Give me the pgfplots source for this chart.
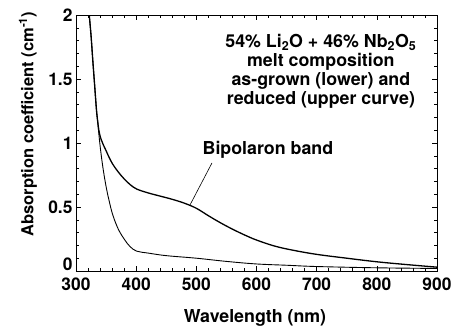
\documentclass[border=0pt]{standalone}
\usepackage{fontspec}
\setmainfont{TeX Gyre Heros}
\usepackage{pgfplots}
\pgfplotsset{compat=1.18}
\begin{document}
\begin{tikzpicture}
\useasboundingbox (-76pt,-59pt) rectangle (390pt,271pt);
\begin{axis}[
  at={(0,0)}, anchor=south west,
  scale only axis, width=361pt, height=256pt,
  xmin=300, xmax=900, ymin=0, ymax=2,
  xtick={300,400,...,900}, ytick={0,0.5,1,1.5,2},
  yticklabels={\raisebox{13pt}{0},0.5,1,1.5,\raisebox{-9pt}{2}},
  minor x tick num=4, minor y tick num=4,
  tick align=inside,
  major tick length=5pt, minor tick length=3pt,
  axis line style={line width=0.8pt},
  every tick/.style={black, line width=0.6pt},
  /pgf/number format/assume math mode=true,
  tick label style={font=\fontsize{17.4}{20}\selectfont\bfseries},
  xticklabel style={yshift=-3pt},
  label style={font=\fontsize{17.8}{20}\selectfont\bfseries},
  xlabel={Wavelength (nm)},
  ylabel={Absorption coefficient (cm\textsuperscript{-1})},
  xlabel style={at={(axis description cs:0.496,-0.184)}, anchor=center},
  ylabel style={at={(axis description cs:-0.133,0.574)}, anchor=center, font=\fontsize{16.5}{20}\selectfont\bfseries},
]
% reduced (upper curve)
\addplot[black, line width=1.3pt, smooth, tension=0.6] coordinates {
(322,2.0) (325,1.84) (328,1.64) (331,1.45) (334,1.26) (336,1.17) (338,1.10)
(340,1.055) (342,1.025) (345,0.99) (350,0.94) (355,0.888) (361,0.835) (370,0.775)
(380,0.72) (390,0.675) (401,0.64) (420,0.61) (440,0.585) (460,0.56)
(480,0.53) (500,0.49) (520,0.432) (540,0.377) (560,0.327) (580,0.282)
(600,0.242) (630,0.195) (660,0.163) (700,0.13) (750,0.10)
(800,0.072) (850,0.05) (900,0.03)
};
% as-grown (lower curve)
\addplot[black, line width=0.9pt, smooth, tension=0.6] coordinates {
(322,2.0) (325,1.84) (328,1.64) (331,1.45) (334,1.26) (336,1.17) (338,1.07)
(341,0.94) (345,0.80) (350,0.66) (355,0.55) (361,0.44) (370,0.33) (380,0.25)
(390,0.19) (401,0.155) (420,0.14) (450,0.12) (500,0.10) (550,0.075) (600,0.055)
(650,0.045) (700,0.035) (800,0.025) (900,0.02)
};
\draw[black, line width=0.6pt] (axis cs:526,0.844) -- (axis cs:489.5,0.516);
\node[font=\fontsize{17.8}{20}\selectfont\bfseries] at (axis cs:619,0.945) {Bipolaron band};
\node[align=center, font=\fontsize{17.8}{19}\selectfont\bfseries] at (axis cs:707,1.559)
  {54\% Li\textsubscript{2}O + 46\% Nb\textsubscript{2}O\textsubscript{5}\\
   melt composition\\
   as-grown (lower) and\\
   reduced (upper curve)};
\end{axis}
\end{tikzpicture}
\end{document}
